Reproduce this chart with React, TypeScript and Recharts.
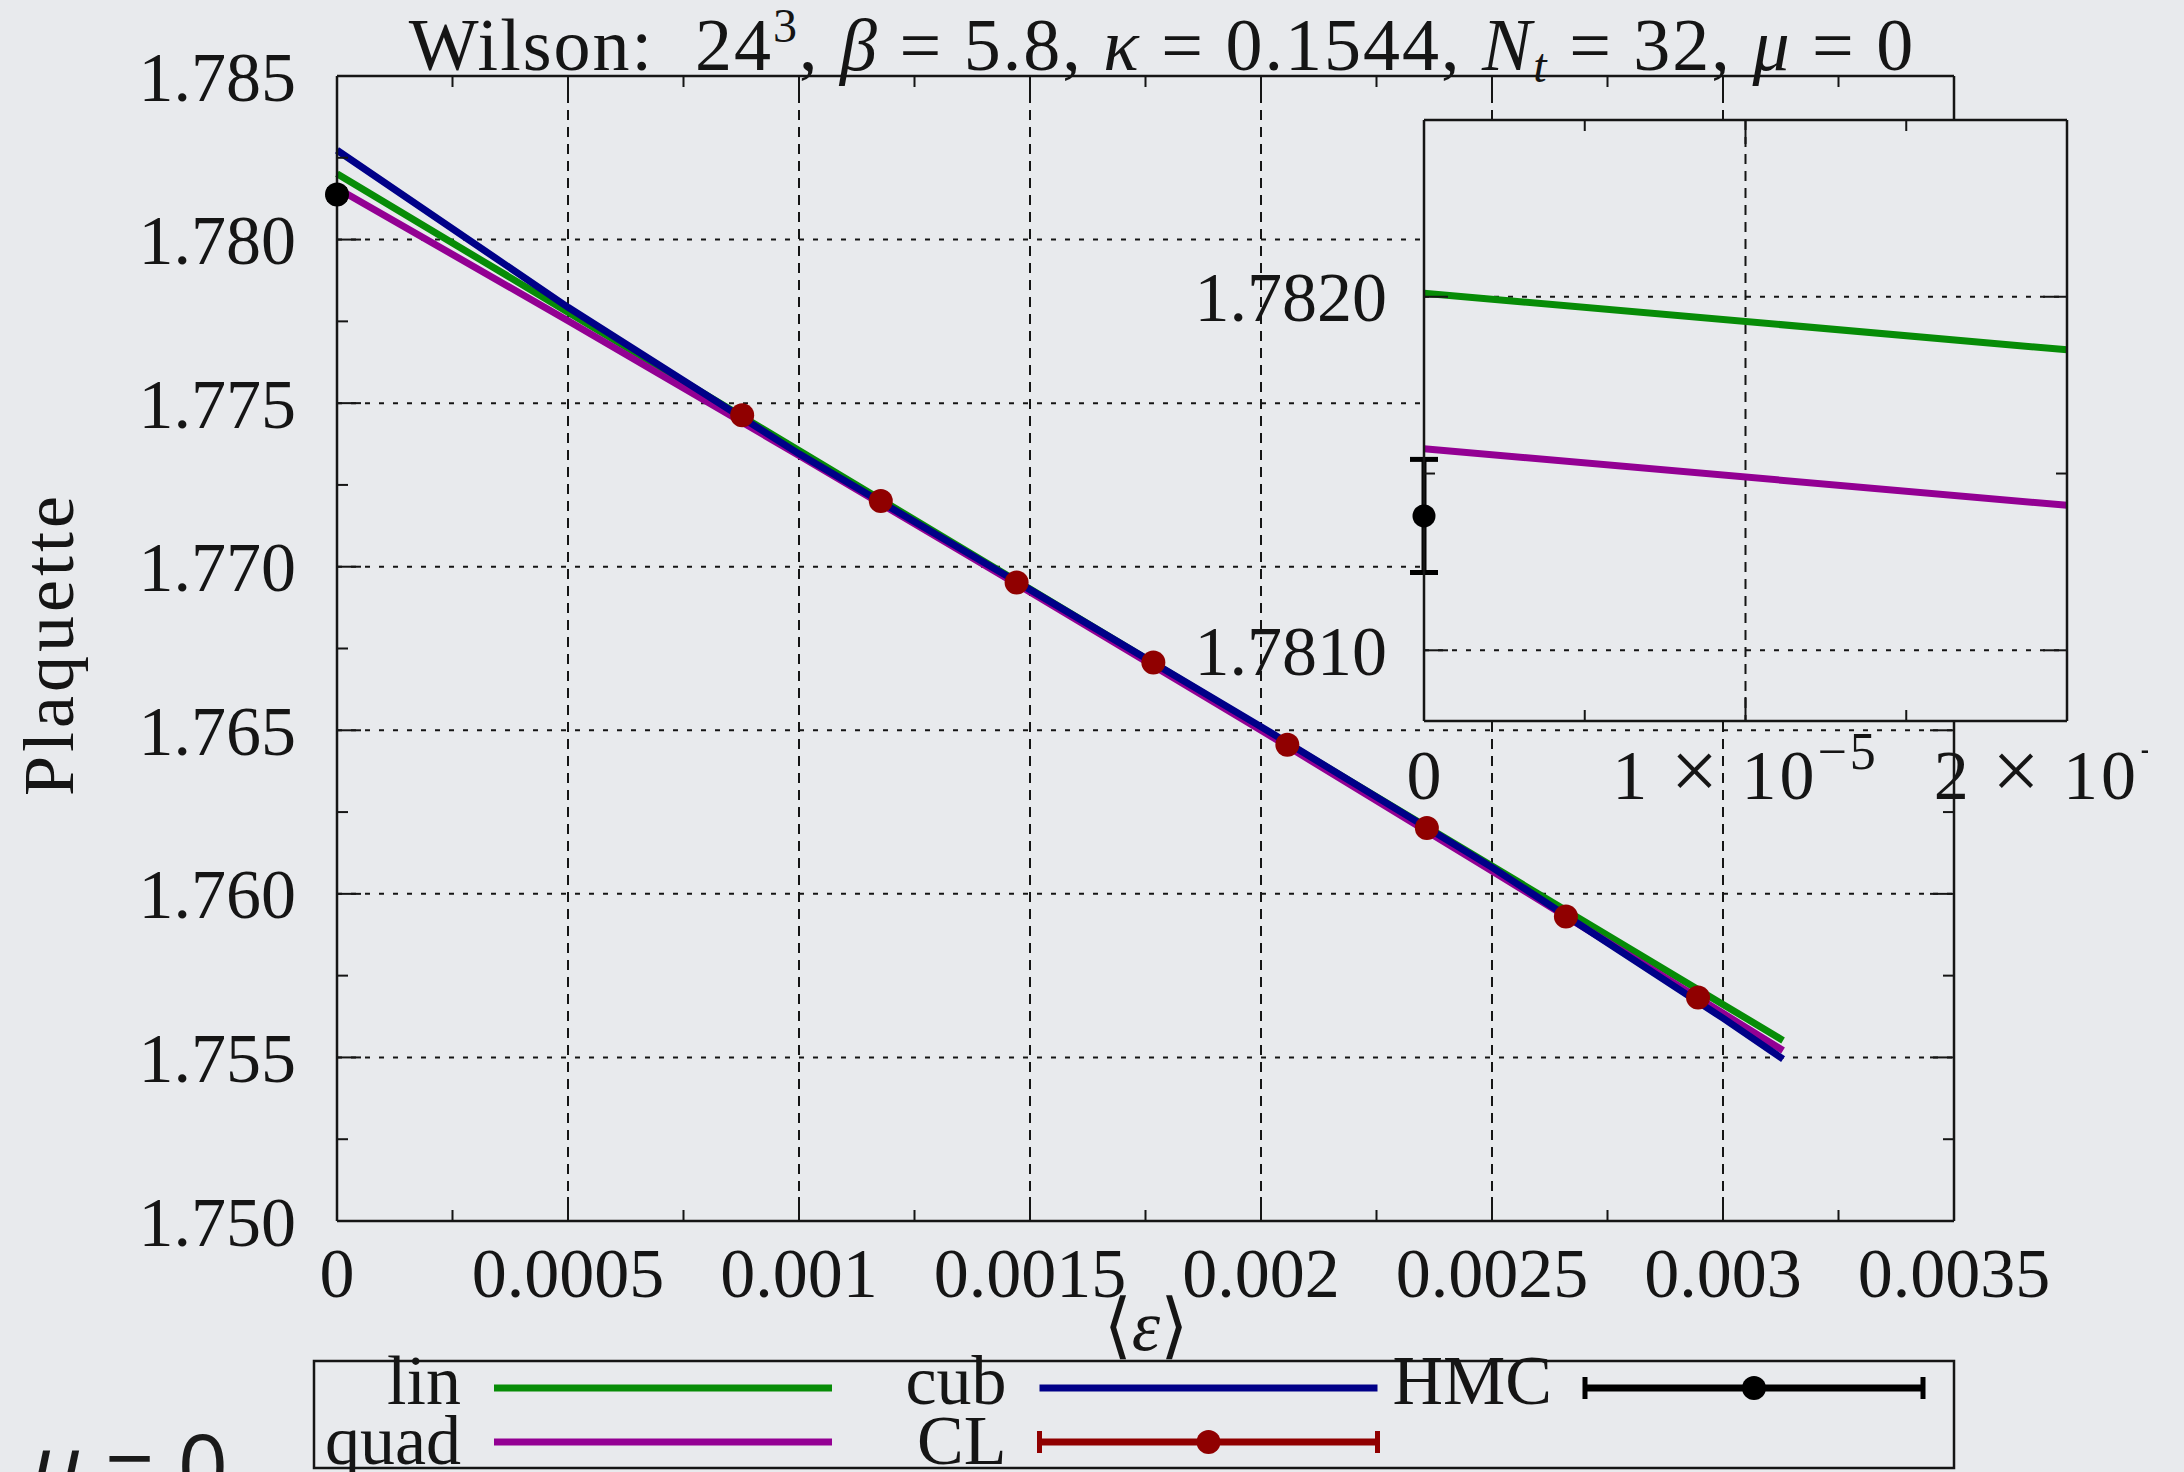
import React from 'react';
import { ComposedChart, Line, Scatter, XAxis, YAxis, CartesianGrid, ErrorBar } from 'recharts';

const W = 2184;
const H = 1472;
const BG = '#e8eaed';
const INK = '#151515';
const SERIF = '"Liberation Serif", "DejaVu Serif", serif';
const GREEN = '#078c07';
const PURPLE = '#930093';
const BLUE = '#000088';
const RED = '#900000';
const BLACK = '#000000';

// fit curves at these <eps> values
const fitEps = [0, 0.0005, 0.001, 0.0015, 0.002, 0.0025, 0.003, 0.00313];
const linVals = [1.78201, 1.77778, 1.77355, 1.76932, 1.76508, 1.76085, 1.75662, 1.75552];
const quadVals = [1.78157, 1.77752, 1.7734, 1.76923, 1.765, 1.7607, 1.75635, 1.75521];
const cubVals = [1.78273, 1.77793, 1.77345, 1.7693, 1.76511, 1.76081, 1.7562, 1.75495];

// CL points
const clEps = [0.000877, 0.001177, 0.001471, 0.001767, 0.002057, 0.002359, 0.00266, 0.002946];
const clVals = [1.77463, 1.77201, 1.76952, 1.76707, 1.76456, 1.76201, 1.75931, 1.75683];

// HMC value at eps = 0
const hmcEps = [0];
const hmcVals = [1.78138];
const hmcErr = [0.00016];

// inset, zoomed near eps = 0
const insetEps = [0, 0.00002];
const insetLinVals = [1.78201, 1.78185];
const insetQuadVals = [1.78157, 1.78141];

// axes
const xMajor = [0, 0.0005, 0.001, 0.0015, 0.002, 0.0025, 0.003, 0.0035];
const xLabels = ['0', '0.0005', '0.001', '0.0015', '0.002', '0.0025', '0.003', '0.0035'];
const xMinor = [0.00025, 0.00075, 0.00125, 0.00175, 0.00225, 0.00275, 0.00325];
const yMajor = [1.75, 1.755, 1.76, 1.765, 1.77, 1.775, 1.78, 1.785];
const yLabels = ['1.750', '1.755', '1.760', '1.765', '1.770', '1.775', '1.780', '1.785'];
const yMinor = [1.7525, 1.7575, 1.7625, 1.7675, 1.7725, 1.7775, 1.7825];

const insetXMajor = [0, 0.00001, 0.00002];
// [mantissa, exponent] ; '' = plain number
const insetXLabels = [['0', ''], ['1', '−5'], ['2', '−5']];
const insetXMinor = [0.000005, 0.000015];
const insetYMajor = [1.781, 1.782];
const insetYLabels = ['1.7810', '1.7820'];
const insetYMinor = [1.7815];

const legendNames = ['lin', 'quad', 'cub', 'CL', 'HMC'];
const legendColors = [GREEN, PURPLE, BLUE, RED, BLACK];
const legendHasBars = [false, false, false, true, true];

const pts = (xs: number[], ys: number[]) => xs.map((x, i) => ({ x, y: ys[i] }));
const linData = pts(fitEps, linVals);
const quadData = pts(fitEps, quadVals);
const cubData = pts(fitEps, cubVals);
const clData = pts(clEps, clVals);
const hmcData = hmcEps.map((x, i) => ({ x, y: hmcVals[i], err: hmcErr[i] }));
const insetLinData = pts(insetEps, insetLinVals);
const insetQuadData = pts(insetEps, insetQuadVals);

const sorted = (a: number[], b: number[]) => [...a, ...b].sort((p, q) => p - q);
const near = (list: number[], v: number) =>
  list.findIndex((m) => Math.abs(m - v) < 1e-10);

type Side = 'bottom' | 'top' | 'left' | 'right';

function tickRenderer(side: Side, major: number[], labels?: (string | string[])[], gap = 0, clipX?: number) {
  return (props: any) => {
    const { x, y, payload } = props;
    const i = near(major, payload.value);
    const len = i >= 0 ? 24 : 11;
    let x2 = x;
    let y2 = y;
    if (side === 'bottom') y2 = y - len;
    if (side === 'top') y2 = y + len;
    if (side === 'left') x2 = x + len;
    if (side === 'right') x2 = x - len;
    let label: React.ReactNode = null;
    if (i >= 0 && labels) {
      const lab = labels[i];
      if (side === 'bottom') {
        const base = Array.isArray(lab) ? lab[0] : lab;
        const exp = Array.isArray(lab) ? lab[1] : '';
        const clipId = `tickclip-${i}`;
        label = (
          <g>
            {clipX !== undefined && (
              <defs>
                <clipPath id={clipId}>
                  <rect x={-3000} y={-3000} width={3000 + clipX} height={6000} />
                </clipPath>
              </defs>
            )}
            <text
              x={x}
              y={y + gap}
              dy="0.35em"
              textAnchor="middle"
              fontFamily={SERIF}
              fontSize={70}
              letterSpacing={exp ? 3 : 0}
              fill={INK}
              clipPath={clipX !== undefined ? `url(#${clipId})` : undefined}
            >
              <tspan>{base}</tspan>
              {exp && (
                <>
                  <tspan>{'\u00a0'}</tspan>
                  <tspan fontSize={84}>×</tspan>
                  <tspan>{'\u00a010'}</tspan>
                  <tspan dy={-30} fontSize={52}>
                    {exp}
                  </tspan>
                </>
              )}
            </text>
          </g>
        );
      } else {
        label = (
          <text x={x - gap} y={y} dy="0.35em" textAnchor="end" fontFamily={SERIF} fontSize={70} fill={INK}>
            {lab as string}
          </text>
        );
      }
    }
    return (
      <g>
        <line x1={x} y1={y} x2={x2} y2={y2} stroke={INK} strokeWidth={2} />
        {label}
      </g>
    );
  };
}

const axisLine = { stroke: INK, strokeWidth: 2.5 };
// axes take 1px so Recharts still draws them; margins are 1px smaller to compensate
const AX = 1;

function MainChart() {
  const xDomain = [0, 0.0035];
  const yDomain = [1.75, 1.785];
  const xTicks = sorted(xMajor, xMinor);
  const yTicks = sorted(yMajor, yMinor);
  return (
    <ComposedChart width={W} height={H} margin={{ top: 76 - AX, right: 230 - AX, bottom: 251 - AX, left: 337 - AX }}>
      <CartesianGrid horizontal={false} verticalValues={xMajor.slice(1, -1)} stroke={INK} strokeWidth={2} strokeDasharray="10 7" fill="none" />
      <CartesianGrid vertical={false} horizontalValues={yMajor.slice(1, -1)} stroke={INK} strokeWidth={2} strokeDasharray="5 9" fill="none" />
      <XAxis xAxisId={0} type="number" dataKey="x" domain={xDomain} ticks={xTicks} interval={0}
        height={AX} tickSize={0} tickMargin={0} tickLine={false} axisLine={axisLine}
        tick={tickRenderer('bottom', xMajor, xLabels, 51)} />
      <XAxis xAxisId="top" orientation="top" type="number" dataKey="x" domain={xDomain} allowDataOverflow ticks={xTicks} interval={0}
        height={AX} tickSize={0} tickMargin={0} tickLine={false} axisLine={axisLine}
        tick={tickRenderer('top', xMajor)} />
      <YAxis yAxisId={0} type="number" domain={yDomain} ticks={yTicks} interval={0}
        width={AX} tickSize={0} tickMargin={0} tickLine={false} axisLine={axisLine}
        tick={tickRenderer('left', yMajor, yLabels, 41)} />
      <YAxis yAxisId="right" orientation="right" type="number" domain={yDomain} allowDataOverflow ticks={yTicks} interval={0}
        width={AX} tickSize={0} tickMargin={0} tickLine={false} axisLine={axisLine}
        tick={tickRenderer('right', yMajor)} />
      <Line data={linData} dataKey="y" type="linear" stroke={GREEN} strokeWidth={7} dot={false} activeDot={false} isAnimationActive={false} />
      <Line data={quadData} dataKey="y" type="linear" stroke={PURPLE} strokeWidth={7} dot={false} activeDot={false} isAnimationActive={false} />
      <Line data={cubData} dataKey="y" type="linear" stroke={BLUE} strokeWidth={7} dot={false} activeDot={false} isAnimationActive={false} />
      <Scatter data={clData} dataKey="y" fill={RED} isAnimationActive={false}
        shape={(p: any) => <circle cx={p.cx} cy={p.cy} r={12} fill={RED} />} />
      <Scatter data={hmcData} dataKey="y" fill={BLACK} isAnimationActive={false}
        shape={(p: any) => <circle cx={p.cx} cy={p.cy} r={12} fill={BLACK} />}>
        <ErrorBar dataKey="err" direction="y" width={10} stroke={BLACK} strokeWidth={4} isAnimationActive={false} />
      </Scatter>
    </ComposedChart>
  );
}

function InsetChart() {
  const xDomain = [0, 0.00002];
  const yDomain = [1.7808, 1.7825];
  const xTicks = sorted(insetXMajor, insetXMinor);
  const yTicks = sorted(insetYMajor, insetYMinor);
  return (
    <ComposedChart width={1084} height={740} margin={{ top: 40 - AX, right: 117 - AX, bottom: 99 - AX, left: 324 - AX }}>
      <CartesianGrid horizontal={false} verticalValues={[insetXMajor[1]]} stroke={INK} strokeWidth={2} strokeDasharray="10 7" fill="none" />
      <CartesianGrid vertical={false} horizontalValues={insetYMajor} stroke={INK} strokeWidth={2} strokeDasharray="5 9" fill="none" />
      <XAxis xAxisId={0} type="number" dataKey="x" domain={xDomain} ticks={xTicks} interval={0}
        height={AX} tickSize={0} tickMargin={0} tickLine={false} axisLine={axisLine}
        tick={tickRenderer('bottom', insetXMajor, insetXLabels, 53, 2148 - 1100)} />
      <XAxis xAxisId="top" orientation="top" type="number" dataKey="x" domain={xDomain} allowDataOverflow ticks={xTicks} interval={0}
        height={AX} tickSize={0} tickMargin={0} tickLine={false} axisLine={axisLine}
        tick={tickRenderer('top', insetXMajor)} />
      <YAxis yAxisId={0} type="number" domain={yDomain} ticks={yTicks} interval={0}
        width={AX} tickSize={0} tickMargin={0} tickLine={false} axisLine={axisLine}
        tick={tickRenderer('left', insetYMajor, insetYLabels, 37)} />
      <YAxis yAxisId="right" orientation="right" type="number" domain={yDomain} allowDataOverflow ticks={yTicks} interval={0}
        width={AX} tickSize={0} tickMargin={0} tickLine={false} axisLine={axisLine}
        tick={tickRenderer('right', insetYMajor)} />
      <Line data={insetLinData} dataKey="y" type="linear" stroke={GREEN} strokeWidth={7} dot={false} activeDot={false} isAnimationActive={false} />
      <Line data={insetQuadData} dataKey="y" type="linear" stroke={PURPLE} strokeWidth={7} dot={false} activeDot={false} isAnimationActive={false} />
      <Scatter data={hmcData} dataKey="y" fill={BLACK} isAnimationActive={false}
        shape={(p: any) => <circle cx={p.cx} cy={p.cy} r={11.5} fill={BLACK} />}>
        <ErrorBar dataKey="err" direction="y" width={14} stroke={BLACK} strokeWidth={5} isAnimationActive={false} />
      </Scatter>
    </ComposedChart>
  );
}

function LegendBox() {
  return (
    <g transform="translate(314,1361)">
      <rect x={0} y={0} width={1640} height={107} fill="none" stroke={INK} strokeWidth={2.5} />
      {legendNames.map((name, i) => {
        const col = Math.floor(i / 2);
        const row = i % 2;
        const x0 = col * 545.5;
        const cy = row === 0 ? 27 : 81;
        const sx1 = x0 + 180;
        const sx2 = x0 + 518;
        const c = legendColors[i];
        return (
          <g key={name}>
            <text x={x0 + 147} y={cy + (row === 0 ? 16 : 22)} textAnchor="end" fontFamily={SERIF} fontSize={70} fill={INK}>
              {name}
            </text>
            <line x1={sx1} y1={cy} x2={sx2} y2={cy} stroke={c} strokeWidth={7} />
            {legendHasBars[i] && (
              <g>
                <line x1={sx1} y1={cy - 11} x2={sx1} y2={cy + 11} stroke={c} strokeWidth={5} />
                <line x1={sx2} y1={cy - 11} x2={sx2} y2={cy + 11} stroke={c} strokeWidth={5} />
                <circle cx={(sx1 + sx2) / 2} cy={cy} r={12} fill={c} />
              </g>
            )}
          </g>
        );
      })}
    </g>
  );
}

function Overlay() {
  return (
    <svg width={W} height={H} style={{ position: 'absolute', left: 0, top: 0, pointerEvents: 'none', overflow: 'visible' }}>
      <text x={1162} y={70} textAnchor="middle" fontFamily={SERIF} fontSize={74} letterSpacing={2} fill={INK}>
        <tspan>{'Wilson:\u00a0\u00a024'}</tspan>
        <tspan dy={-28} fontSize={48}>3</tspan>
        <tspan dy={28}>{',\u00a0'}</tspan>
        <tspan fontStyle="italic">β</tspan>
        <tspan>{'\u00a0=\u00a05.8,\u00a0'}</tspan>
        <tspan fontStyle="italic">κ</tspan>
        <tspan>{'\u00a0=\u00a00.1544,\u00a0'}</tspan>
        <tspan fontStyle="italic">N</tspan>
        <tspan dy={12} fontSize={48} fontStyle="italic">t</tspan>
        <tspan dy={-12}>{'\u00a0=\u00a032,\u00a0'}</tspan>
        <tspan fontStyle="italic">μ</tspan>
        <tspan>{'\u00a0=\u00a00'}</tspan>
      </text>
      <text transform="translate(73,644) rotate(-90)" textAnchor="middle" fontFamily={SERIF} fontSize={72} letterSpacing={4} fill={INK}>
        Plaquette
      </text>
      <text x={1146} y={1350} textAnchor="middle" fontFamily={SERIF} fontSize={72} fill={INK}>
        <tspan>⟨</tspan>
        <tspan fontStyle="italic">ε</tspan>
        <tspan>⟩</tspan>
      </text>
      <text x={228} y={1498} textAnchor="end" fontFamily='"Open Sans", "Noto Sans", sans-serif' fontSize={88} fill="#1a1a1a">
        <tspan fontStyle="italic">μ</tspan>
        <tspan>{'\u00a0=\u00a00'}</tspan>
      </text>
      <LegendBox />
    </svg>
  );
}

export default function App() {
  return (
    <div style={{ position: 'absolute', left: 0, top: 0, width: W, height: H, background: BG, overflow: 'hidden' }}>
      <div style={{ position: 'absolute', left: 0, top: 0 }}>
        <MainChart />
      </div>
      <div style={{ position: 'absolute', left: 1424, top: 120, width: 643, height: 601, background: BG }} />
      <div style={{ position: 'absolute', left: 1100, top: 80 }}>
        <InsetChart />
      </div>
      <Overlay />
    </div>
  );
}
